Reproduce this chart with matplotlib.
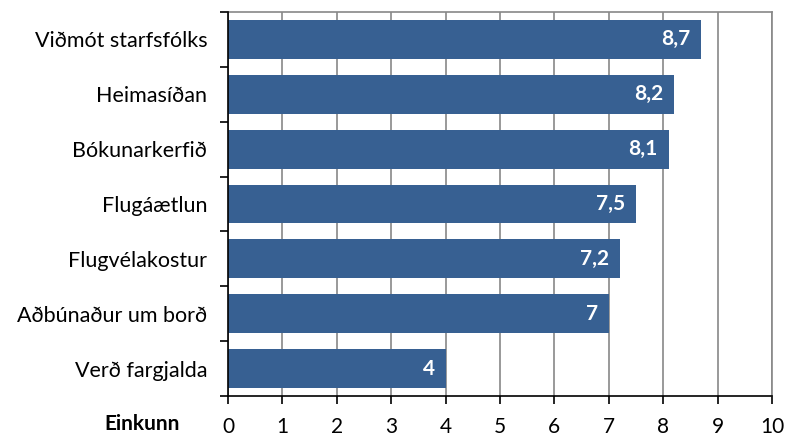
import matplotlib
matplotlib.use("Agg")
import matplotlib.pyplot as plt

categories = ["Viðmót starfsfólks", "Heimasíðan", "Bókunarkerfið", "Flugáætlun",
              "Flugvélakostur", "Aðbúnaður um borð", "Verð fargjalda"]
values = [8.7, 8.2, 8.1, 7.5, 7.2, 7.0, 4.0]
value_labels = ["8,7", "8,2", "8,1", "7,5", "7,2", "7", "4"]
xticks = list(range(0, 11))

plt.rcParams['font.family'] = ['Lato', 'DejaVu Sans']

fig = plt.figure(figsize=(7.86, 4.36), dpi=100)
ax = fig.add_axes([228/786, 1-396/436, (772-228)/786, (396-12)/436])

n = len(categories)
ypos = list(range(n))
ax.barh(ypos, values, height=0.71, color='#376092', zorder=3)
for y, v, lab in zip(ypos, values, value_labels):
    ax.text(v - 0.2, y, lab, ha='right', va='center', color='white',
            fontsize=15, fontweight='bold', zorder=4)

ax.set_ylim(n - 0.5, -0.5)
ax.set_xlim(0, 10)
ax.set_xticks(xticks)
ax.set_xticklabels([str(t) for t in xticks], fontsize=15)
ax.set_yticks(ypos)
ax.set_yticklabels(categories, fontsize=15.5)
ax.set_yticks([i - 0.5 for i in range(n + 1)], minor=True)
ax.tick_params(axis='y', which='major', length=0, pad=15)
ax.tick_params(axis='y', which='minor', length=6, width=1.2, direction='out')
ax.tick_params(axis='x', length=6, width=1.2, direction='out', pad=9)

ax.grid(axis='x', color='#888888', linewidth=1.2, zorder=0)
for s in ['top', 'right']:
    ax.spines[s].set_color('#888888')
    ax.spines[s].set_linewidth(1.2)
for s in ['left', 'bottom']:
    ax.spines[s].set_linewidth(1.2)
    ax.spines[s].set_color('black')
    ax.spines[s].set_zorder(5)

fig.text(180/786, 1-424/436, "Einkunn", ha='right', va='center', fontsize=15, fontweight='bold')

fig.savefig("out.png", dpi=100)
